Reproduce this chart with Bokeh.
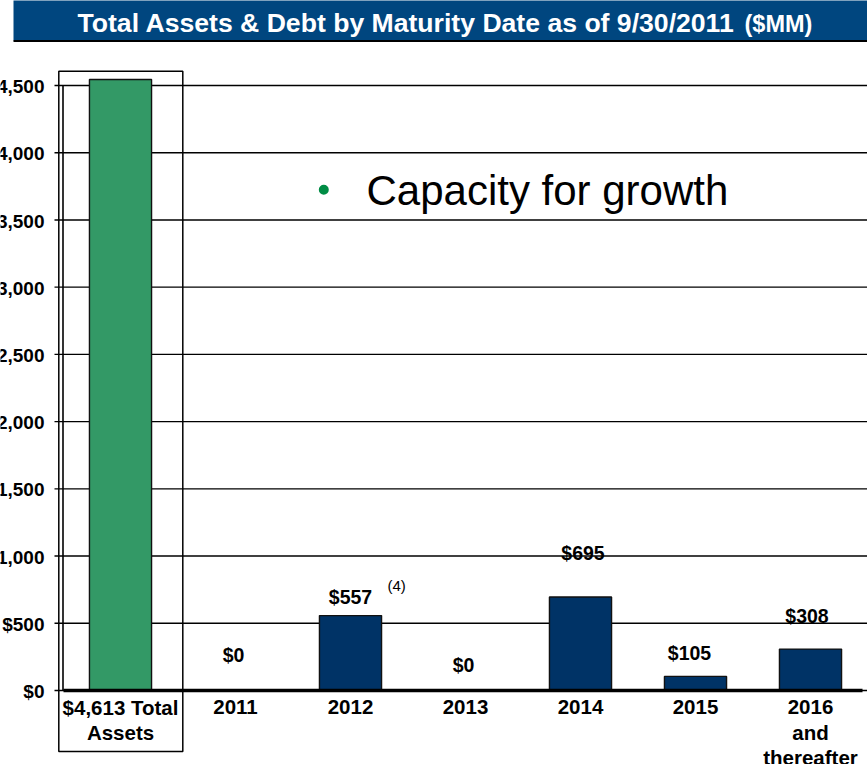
from bokeh.plotting import figure
from bokeh.models import Range1d, ColumnDataSource
from bokeh.embed import file_html
from bokeh.resources import INLINE
from bokeh.core.properties import value

# ---------------- data ----------------
categories = ["$4,613 Total\nAssets", "2011", "2012", "2013", "2014", "2015", "2016\nand\nthereafter"]
amounts = [4613, 0, 557, 0, 695, 105, 308]
y_ticks = [0, 500, 1000, 1500, 2000, 2500, 3000, 3500, 4000, 4500]
y_tick_labels = ["$0", "$500", "$1,000", "$1,500", "$2,000", "$2,500",
                 "$3,000", "$3,500", "$4,000", "$4,500"]
title_main = "Total Assets & Debt by Maturity Date as of 9/30/2011"
title_unit = "($MM)"
callout = "Capacity for growth"
footnote_mark = "(4)"

# ---------------- layout / style ----------------
W, H = 867, 764
X0_PX, X_STEP_PX = 62.5, 115.0          # left edge of value axis, category width
Y0_PX, Y_PX_PER = 690.0, 605.0 / 4500   # pixel row of $0, pixels per $MM
AXIS_CAP = 4545                          # visible top of the value axis
FONT = value("Liberation Sans")
GREEN, NAVY, BANNER = "#339966", "#003366", "#00467F"
BASE_FIX = 0.31                          # baseline correction, in em

# pixel offsets of the value labels above each bar top (debt columns only)
label_rise_px = [29, 13, 19, 38, 17, 27]
label_shift_px = [-2, 0, -2, 2.5, -6, -3.5]


def px2x(px):
    return (px - X0_PX) / X_STEP_PX


def px2y(py):
    return (Y0_PX - py) / Y_PX_PER


def up(size):
    return -BASE_FIX * size


p = figure(width=W, height=H,
           x_range=Range1d(px2x(0), px2x(W)), y_range=Range1d(px2y(H), px2y(0)),
           x_axis_type=None, y_axis_type=None,
           toolbar_location=None, output_backend="svg",
           min_border=0, outline_line_color=None,
           background_fill_color="white", border_fill_color="white")

# banner
p.quad(left=px2x(13), right=px2x(W), top=px2y(-2), bottom=px2y(40),
       fill_color=BANNER, line_color=None)
p.segment(x0=px2x(13), x1=px2x(W), y0=px2y(40.4), y1=px2y(40.4),
          line_color="black", line_width=2)
p.text(x=px2x(77), y=px2y(31), text=[title_main], y_offset=up(26.6), text_font=FONT,
       text_font_style="bold", text_font_size="26.6px", text_color="white",
       text_align="left", text_baseline="alphabetic")
p.text(x=px2x(744), y=px2y(31), text=[title_unit], y_offset=up(23.5), text_font=FONT,
       text_font_style="bold", text_font_size="23.5px", text_color="white",
       text_align="left", text_baseline="alphabetic")

n = len(categories)
centers = [i + 0.5 for i in range(n)]

# gridlines
p.segment(x0=[0] * len(y_ticks), x1=[px2x(W)] * len(y_ticks), y0=y_ticks, y1=y_ticks,
          line_color="black", line_width=1.4)
# ticks
p.segment(x0=[px2x(54)] * len(y_ticks), x1=[0] * len(y_ticks), y0=y_ticks, y1=y_ticks,
          line_color="black", line_width=1.4)

# bars
tops = [min(a, AXIS_CAP) for a in amounts]
colors = [GREEN] + [NAVY] * (n - 1)
bars = ColumnDataSource(dict(x=centers, top=tops, color=colors))
p.vbar(x="x", top="top", bottom=0, width=0.54, source=bars,
       fill_color="color", line_color="#111111", line_width=1.4)

# value axis line and base line
p.segment(x0=0, x1=0, y0=0, y1=max(y_ticks), line_color="black", line_width=1.6)
p.segment(x0=px2x(63), x1=px2x(862), y0=0, y1=0, line_color="black", line_width=3.5)

# frame round the total-assets column
p.quad(left=px2x(58.3), right=px2x(182.3), top=px2y(70.7), bottom=px2y(751),
       fill_color=None, line_color="black", line_width=1.5)

# y tick labels (the widest ones run off the left edge, as in the original)
p.text(x=0, y=y_ticks, text=y_tick_labels, x_offset=-18.5, y_offset=7 + up(19),
       text_font=FONT, text_font_style="bold", text_font_size="19px",
       text_color="black", text_align="right", text_baseline="alphabetic")

# category labels (one glyph row per text line)
cx, cy, ct, co = [], [], [], []
for c, cat in zip(centers, categories):
    for k, line in enumerate(cat.split("\n")):
        cx.append(c)
        cy.append(0)
        ct.append(line)
        co.append(23 + 25 * k + up(20.5))
p.text(x="x", y="y", text="t", y_offset="o",
       source=ColumnDataSource(dict(x=cx, y=cy, t=ct, o=co)),
       text_font=FONT, text_font_style="bold", text_font_size="20.5px",
       text_color="black", text_align="center", text_baseline="alphabetic")

# value labels on the debt columns
vx = centers[1:]
vy = amounts[1:]
vt = [f"${a:,}" for a in amounts[1:]]
p.text(x="x", y="y", text="t", x_offset="dx", y_offset="dy",
       source=ColumnDataSource(dict(x=vx, y=vy, t=vt, dx=label_shift_px,
                                    dy=[-r + up(19.5) for r in label_rise_px])),
       text_font=FONT, text_font_style="bold", text_font_size="19.5px",
       text_color="black", text_align="center", text_baseline="alphabetic")

# footnote marker next to 2012
p.text(x=centers[2], y=amounts[2], text=[footnote_mark], x_offset=37,
       y_offset=-25 + up(15),
       text_font=FONT, text_font_size="15px", text_color="black",
       text_align="left", text_baseline="alphabetic")

# call-out
p.scatter(x=[px2x(323.3)], y=[px2y(189.3)], size=10, marker="circle",
          fill_color="#008C45", line_color=None)
p.text(x=px2x(366), y=px2y(203), text=[callout], y_offset=up(42), text_font=FONT,
       text_font_size="42px", text_color="black",
       text_align="left", text_baseline="alphabetic")

open("out.html", "w").write(file_html(p, INLINE))
